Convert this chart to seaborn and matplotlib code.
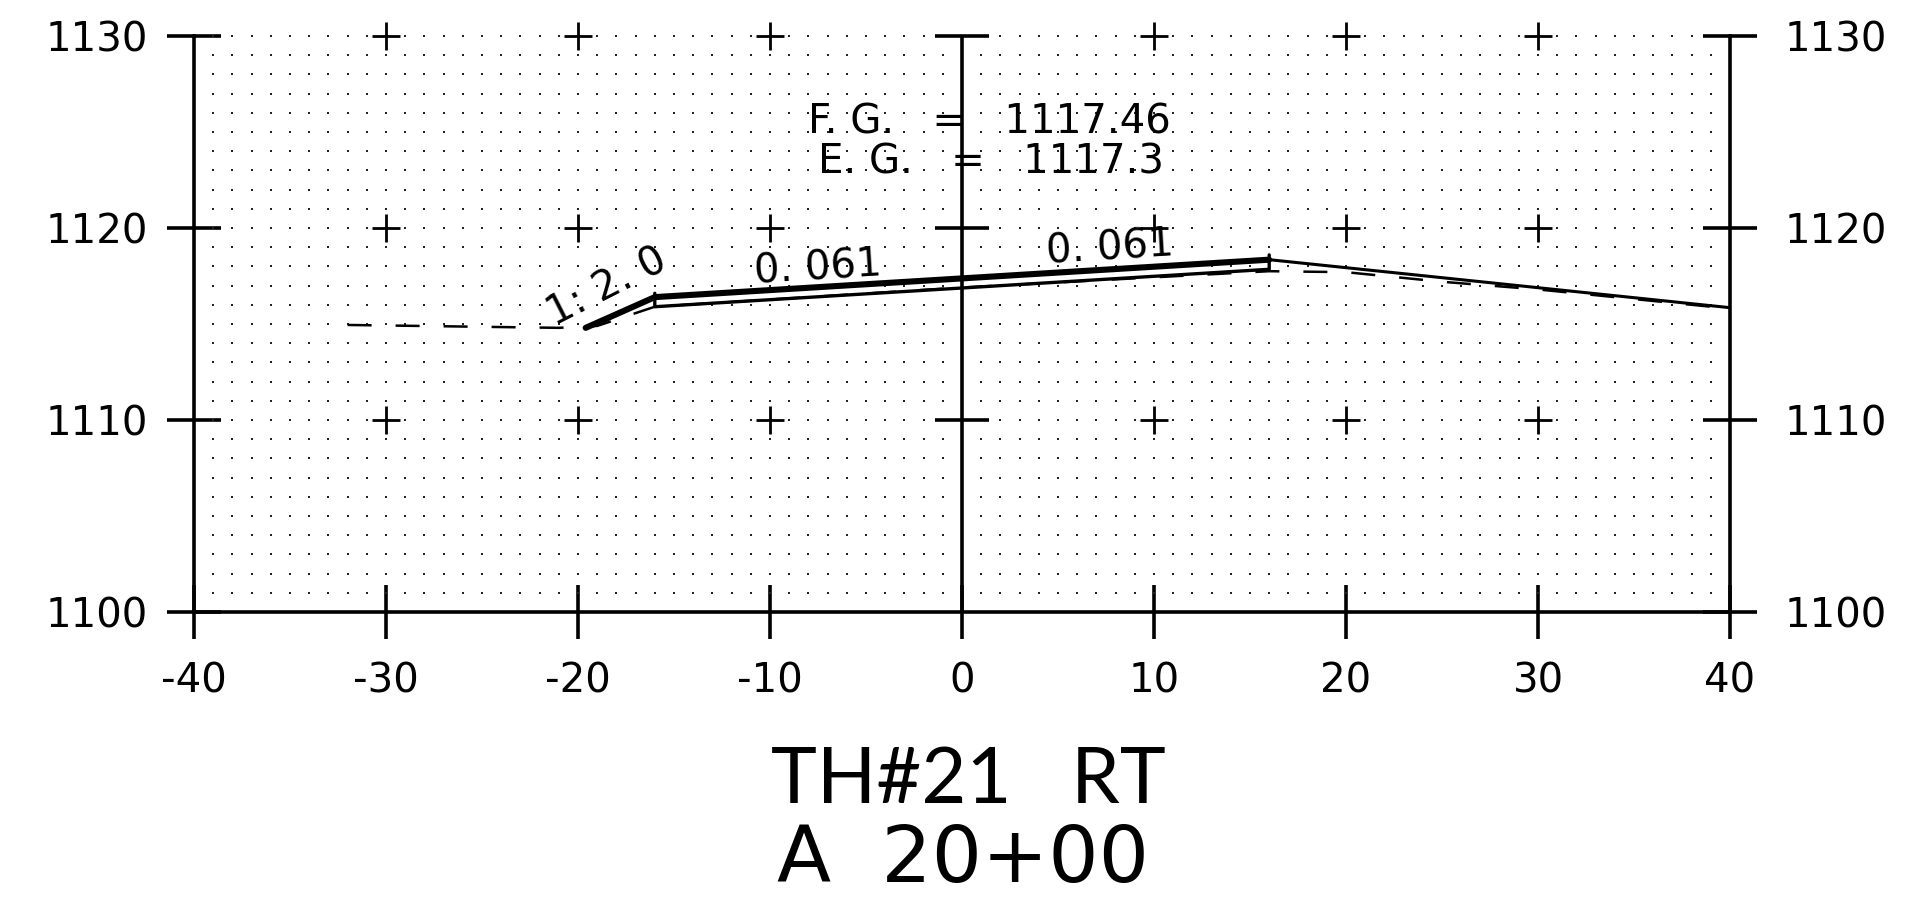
import numpy as np
import seaborn as sns
import matplotlib.pyplot as plt

# section tick values
x_ticks = [-40, -30, -20, -10, 0, 10, 20, 30, 40]
y_ticks = [1100, 1110, 1120, 1130]
x_labels = ["-40", "-30", "-20", "-10", "0", "10", "20", "30", "40"]
y_labels = ["1100", "1110", "1120", "1130"]

# finished grade, heavy part
top_x = [-19.6, -16, 16]
top_y = [1114.8, 1116.4, 1118.35]
# underside of the slab
slab_x = [-16, -16, 16, 16]
slab_y = [1116.6, 1115.9, 1117.85, 1118.6]
# fill slope on the right
fill_x = [16, 40]
fill_y = [1118.35, 1115.85]
# existing ground, dashed
ground_x = [-32, -21, -19, -16, 0, 16, 20, 25, 30, 40]
ground_y = [1114.95, 1114.8, 1114.9, 1115.9, 1116.9, 1117.75, 1117.7, 1117.2, 1116.8, 1115.8]

sns.set_theme(style="white")
plt.rcParams['font.family'] = ['DejaVu Sans']

fig = plt.figure(figsize=(19.22, 9), dpi=100)
ax = fig.add_axes([194 / 1922, 288 / 900, 1536 / 1922, 576 / 900])
ax.set_xlim(-40, 40)
ax.set_ylim(1100, 1130)

# dot grid, one every unit
gx, gy = np.meshgrid(np.arange(-39, 40), np.arange(1101, 1131))
sns.scatterplot(x=gx.ravel(), y=gy.ravel(), s=2.5, color="#222222", marker="s", linewidth=0,
                clip_on=False, ax=ax)

# crosses where the ten-unit lines meet
cx, cy = np.meshgrid([t for t in x_ticks if abs(t) != 40 and t != 0], y_ticks[1:])
sns.scatterplot(x=cx.ravel(), y=cy.ravel(), s=378, color="black", marker="+", linewidth=2.0,
                clip_on=False, ax=ax)
sns.scatterplot(x=[0, 0, 0], y=y_ticks[1:], s=1512, color="black", marker="_", linewidth=2.6,
                clip_on=False, ax=ax)

sns.lineplot(x=ground_x, y=ground_y, color="black", linewidth=1.8, sort=False, estimator=None,
             linestyle=(0, (9.6, 9.6)), ax=ax)
sns.lineplot(x=slab_x, y=slab_y, color="black", linewidth=2.4, sort=False, estimator=None, ax=ax)
sns.lineplot(x=top_x, y=top_y, color="black", linewidth=4.4, sort=False, estimator=None, ax=ax)
sns.lineplot(x=fill_x, y=fill_y, color="black", linewidth=2.2, sort=False, estimator=None, ax=ax)
ax.axvline(0, color="black", linewidth=2.6)

for side in ["left", "right", "bottom"]:
    ax.spines[side].set_visible(True)
    ax.spines[side].set_linewidth(2.6)
    ax.spines[side].set_color("black")
ax.spines["top"].set_visible(False)

ax.set_xticks(x_ticks, x_labels)
ax.set_yticks(y_ticks, y_labels)
ax.tick_params(axis="x", bottom=True, direction="inout", length=39, width=2.6, color="black",
               pad=16, labelsize=29, labelcolor="black")
ax.tick_params(axis="y", left=True, direction="inout", length=39, width=2.6, color="black",
               pad=14, labelsize=29, labelcolor="black")

ax2 = ax.twinx()
ax2.set_ylim(1100, 1130)
ax2.set_yticks(y_ticks, y_labels)
ax2.grid(False)
for spine in ax2.spines.values():
    spine.set_visible(False)
ax2.tick_params(axis="y", right=True, direction="inout", length=39, width=2.6, color="black",
                pad=20, labelsize=29, labelcolor="black")

ax.text(1.4, 1125.5, "F. G.   =   1117.46", fontsize=29, color="black", ha="center", va="center")
ax.text(1.5, 1123.4, "E. G.   =   1117.3", fontsize=29, color="black", ha="center", va="center")
ax.text(-7.5, 1117.9, "0. 061", fontsize=29, color="black", ha="center", va="center", rotation=3.5)
ax.text(7.7, 1118.9, "0. 061", fontsize=29, color="black", ha="center", va="center", rotation=3.5)
ax.text(-18.5, 1116.9, "1: 2. 0", fontsize=29, color="black", ha="center", va="center", rotation=27)

fig.text(968 / 1922, 1 - 803 / 900, "TH#21   RT", fontsize=56, family="Lato",
         color="black", ha="center", va="baseline")
fig.text(963 / 1922, 1 - 882 / 900, "A  20+00", fontsize=57, color="black", ha="center", va="baseline")

fig.savefig("out.png", dpi=100, facecolor="white")
